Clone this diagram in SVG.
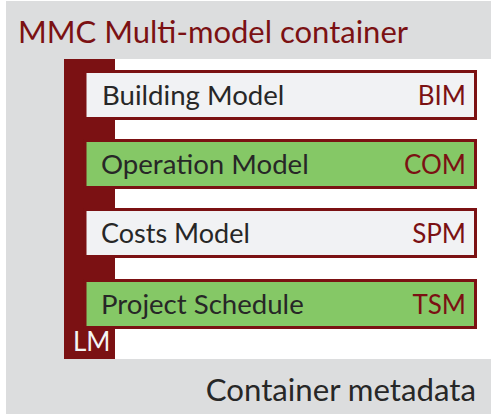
<svg xmlns="http://www.w3.org/2000/svg" width="491" height="414" viewBox="0 0 491 414">
<style>
text{font-family:Lato,"Open Sans",sans-serif;font-size:27.6px}
.r{fill:#7b1113}
.d{fill:#272727}
.c{text-anchor:end;font-size:26px}
.b{stroke:#7b1113;stroke-width:3}
.w{fill:#f1f2f4}
.g{fill:#85c866}
</style>
<rect width="491" height="414" fill="#ffffff"/>
<g id="container">
<rect x="6" y="1" width="485" height="413" fill="#dcddde"/>
<rect x="64" y="59" width="427" height="300" fill="#ffffff"/>
<text x="18" y="43" class="r" style="font-size:31px">MMC Multi-model container</text>
<text x="476" y="401" class="d c" style="font-size:31.2px">Container metadata</text>
</g>
<g id="lm">
<rect x="64" y="59" width="51" height="300" class="r"/>
<text x="73" y="351" fill="#f4f4f4" style="font-size:26px">LM</text>
</g>
<g id="bim">
<rect x="85" y="71.500" width="390.500" height="47" class="b w"/>
<text x="102" y="105" class="d">Building Model</text>
<text x="466" y="105" class="r c">BIM</text>
</g>
<g id="com">
<rect x="85" y="140.500" width="390.500" height="47" class="b g"/>
<text x="101" y="174" class="d">Operation Model</text>
<text x="466" y="174" class="r c">COM</text>
</g>
<g id="spm">
<rect x="85" y="209.500" width="390.500" height="47" class="b w"/>
<text x="101" y="243" class="d" style="font-size:27px">Costs Model</text>
<text x="466" y="243" class="r c">SPM</text>
</g>
<g id="tsm">
<rect x="85" y="280.500" width="390.500" height="47" class="b g"/>
<text x="101" y="314" class="d">Project Schedule</text>
<text x="466" y="314" class="r c">TSM</text>
</g>
<g id="connectors"></g>
</svg>
